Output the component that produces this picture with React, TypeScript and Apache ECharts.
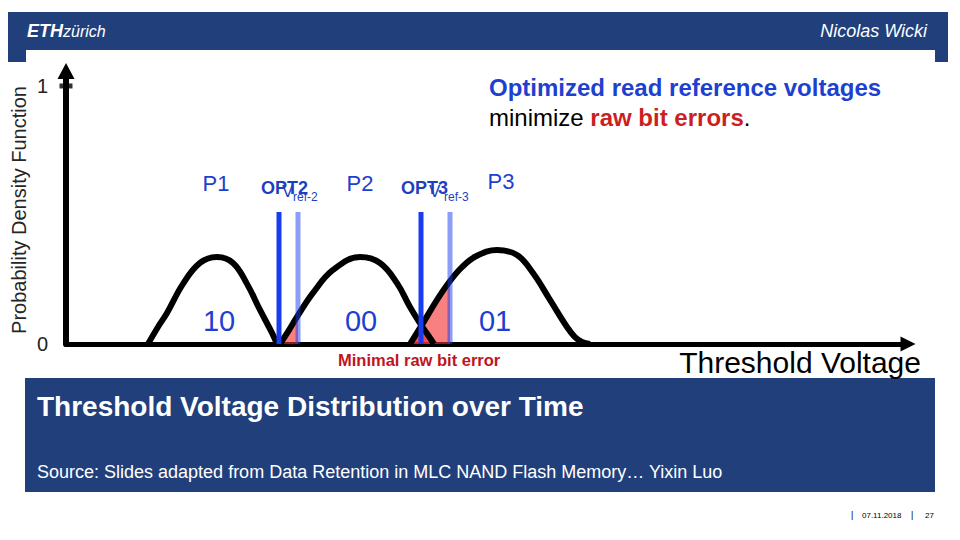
import React, { useEffect, useRef } from "react";
import * as echarts from "echarts";

// Threshold-voltage distributions (voltage in arbitrary units, density 0..1)
const p1Volt = [8.2, 9.2, 10.1, 11.7, 13.4, 15.1, 16.7, 18.1, 19.4, 20.6, 21.1];
const p1Dens = [0, 0.066, 0.12, 0.233, 0.314, 0.337, 0.314, 0.233, 0.132, 0.043, 0];

const p2Volt = [21.4, 22.3, 23.1, 24.7, 26.7, 29.4, 31.4, 33.1, 34.4, 35.5, 36.2, 36.8];
const p2Dens = [0, 0.054, 0.105, 0.198, 0.287, 0.337, 0.314, 0.236, 0.143, 0.074, 0.035, 0];

const p3Volt = [34.4, 35.7, 37.1, 38.4, 39.6, 41.0, 43.1, 45.1, 46.7, 48.4, 50.1, 50.9, 51.6, 52.4];
const p3Dens = [0, 0.081, 0.171, 0.244, 0.298, 0.34, 0.364, 0.345, 0.275, 0.171, 0.066, 0.027, 0.008, 0];

// raw bit error regions
const err2Volt = [21.4, 22.3, 23.2];
const err2Dens = [0, 0.054, 0.109];
const err3Volt = [34.4, 35.7, 37.1, 38.4];
const err3Dens = [0, 0.081, 0.171, 0.244];
const minErrVolt = [34.7, 35.6, 36.6];
const minErrDens = [0, 0.05, 0];

// read reference voltages
const optVolts = [21.3, 35.5];
const vrefVolts = [23.2, 38.4];
const refLineTop = 0.512;

const yTickValues = [0, 1];
const stateNames = ["P1", "P2", "P3"];
const stateBits = ["10", "00", "01"];

const BLUE_BG = "#21407b";
const TEXT_BLUE = "#1e40d0";
const FONT = "'Liberation Sans', Arial, sans-serif";

const zip = (xs: number[], ys: number[]) => xs.map((x, i) => [x, ys[i]]);

export default function App() {
  const ref = useRef<HTMLDivElement>(null);
  useEffect(() => {
    if (!ref.current) return;
    const chart = echarts.init(ref.current, undefined, { renderer: "svg" });

    const curve = (name: string, xs: number[], ys: number[]) => ({
      type: "line",
      name,
      data: zip(xs, ys),
      smooth: 0.4,
      showSymbol: false,
      lineStyle: { color: "#000", width: 6 },
      z: 3,
    });
    const fill = (xs: number[], ys: number[], z: number) => ({
      type: "line",
      data: zip(xs, ys),
      smooth: 0.3,
      showSymbol: false,
      lineStyle: { width: 0 },
      areaStyle: { color: "rgba(243,43,43,0.6)", opacity: 1 },
      z,
    });
    const vline = (v: number, color: string, z: number) => ({
      type: "line",
      data: [
        [v, 0],
        [v, refLineTop],
      ],
      showSymbol: false,
      lineStyle: { color, width: 5 },
      z,
    });

    const pLabelX = [216, 360, 501];
    const pLabelY = [183, 183, 181];
    const bitLabelX = [219, 361, 495];

    const graphic: any[] = [
      { type: "rect", shape: { x: 8, y: 12, width: 940, height: 50 }, style: { fill: BLUE_BG } },
      { type: "rect", shape: { x: 26, y: 50, width: 909, height: 12 }, style: { fill: "#fff" } },
      {
        type: "text",
        x: 27,
        y: 31,
        style: {
          text: "{a|ETH}{b|zürich}",
          verticalAlign: "middle",
          rich: {
            a: { fontFamily: FONT, fontWeight: "bold", fontStyle: "italic", fontSize: 18, fill: "#fff" },
            b: { fontFamily: FONT, fontStyle: "italic", fontSize: 16, fill: "#fff" },
          },
        },
      },
      {
        type: "text",
        x: 927,
        y: 31,
        style: { text: "Nicolas Wicki", align: "right", verticalAlign: "middle", fontFamily: FONT, fontStyle: "italic", fontSize: 18, fill: "#fff" },
      },
      { type: "rect", shape: { x: 25, y: 378, width: 910, height: 114 }, style: { fill: BLUE_BG } },
      {
        type: "text",
        x: 37,
        y: 406,
        style: { text: "Threshold Voltage Distribution over Time", verticalAlign: "middle", fontFamily: FONT, fontWeight: "bold", fontSize: 28, fill: "#fff" },
      },
      {
        type: "text",
        x: 37,
        y: 472,
        style: { text: "Source: Slides adapted from Data Retention in MLC NAND Flash Memory… Yixin Luo", verticalAlign: "middle", fontFamily: FONT, fontSize: 18, fill: "#fff" },
      },
      { type: "text", x: 851, y: 515, style: { text: "|", verticalAlign: "middle", fontFamily: FONT, fontSize: 9, fill: "#000" } },
      { type: "text", x: 862, y: 515, style: { text: "07.11.2018", verticalAlign: "middle", fontFamily: FONT, fontSize: 8, fill: "#000" } },
      { type: "text", x: 911, y: 515, style: { text: "|", verticalAlign: "middle", fontFamily: FONT, fontSize: 9, fill: "#000" } },
      { type: "text", x: 925, y: 515, style: { text: "27", verticalAlign: "middle", fontFamily: FONT, fontSize: 8, fill: "#000" } },
      {
        type: "text",
        x: 19,
        y: 210,
        rotation: Math.PI / 2,
        style: { text: "Probability Density Function", align: "center", verticalAlign: "middle", fontFamily: FONT, fontSize: 20, fill: "#262626" },
      },
      {
        type: "text",
        x: 921,
        y: 362,
        style: { text: "Threshold Voltage", align: "right", verticalAlign: "middle", fontFamily: FONT, fontSize: 30, fill: "#000" },
      },
      {
        type: "text",
        x: 489,
        y: 87,
        style: { text: "Optimized read reference voltages", verticalAlign: "middle", fontFamily: FONT, fontWeight: "bold", fontSize: 24, fill: TEXT_BLUE },
      },
      {
        type: "text",
        x: 489,
        y: 117,
        style: {
          text: "{n|minimize }{r|raw bit errors}{n|.}",
          verticalAlign: "middle",
          rich: {
            n: { fontFamily: FONT, fontSize: 24, fill: "#000" },
            r: { fontFamily: FONT, fontSize: 24, fontWeight: "bold", fill: "#cc1f1f" },
          },
        },
      },
      {
        type: "text",
        x: 338,
        y: 360,
        style: { text: "Minimal raw bit error", verticalAlign: "middle", fontFamily: FONT, fontWeight: "bold", fontSize: 16.5, fill: "#c0141e" },
      },
      ...stateNames.map((t, i) => ({
        type: "text",
        x: pLabelX[i],
        y: pLabelY[i],
        style: { text: t, align: "center", verticalAlign: "middle", fontFamily: FONT, fontSize: 22, fill: TEXT_BLUE },
      })),
      ...stateBits.map((t, i) => ({
        type: "text",
        x: bitLabelX[i],
        y: 321,
        style: { text: t, align: "center", verticalAlign: "middle", fontFamily: FONT, fontSize: 29, fill: TEXT_BLUE },
      })),
      { type: "text", x: 261, y: 188, style: { text: "OPT2", verticalAlign: "middle", fontFamily: FONT, fontWeight: "bold", fontSize: 18, fill: "#1e3fbf" } },
      { type: "text", x: 282, y: 191, style: { text: "V", verticalAlign: "middle", fontFamily: FONT, fontSize: 17, fill: "#1e3fbf" } },
      { type: "text", x: 293, y: 197, style: { text: "ref-2", verticalAlign: "middle", fontFamily: FONT, fontSize: 12, fill: "#1e3fbf" } },
      { type: "text", x: 401, y: 188, style: { text: "OPT3", verticalAlign: "middle", fontFamily: FONT, fontWeight: "bold", fontSize: 18, fill: "#1e3fbf" } },
      { type: "text", x: 429, y: 191, style: { text: "V", verticalAlign: "middle", fontFamily: FONT, fontSize: 17, fill: "#1e3fbf" } },
      { type: "text", x: 444, y: 197, style: { text: "ref-3", verticalAlign: "middle", fontFamily: FONT, fontSize: 12, fill: "#1e3fbf" } },
    ];

    chart.setOption({
      animation: false,
      backgroundColor: "#fff",
      grid: { left: 66, right: 52, top: 71, bottom: 196, containLabel: false },
      xAxis: {
        type: "value",
        min: 0,
        max: 84.2,
        axisLine: { show: true, lineStyle: { color: "#000", width: 5 }, symbol: ["none", "triangle"], symbolSize: [15, 15], onZero: false },
        axisTick: { show: false },
        axisLabel: { show: false },
        splitLine: { show: false },
      },
      yAxis: {
        type: "value",
        min: 0,
        max: 1.058,
        interval: 1,
        axisLine: { show: true, lineStyle: { color: "#000", width: 6 }, symbol: ["none", "triangle"], symbolSize: [17, 16] },
        axisTick: { show: false },
        axisLabel: {
          margin: 18,
          fontFamily: FONT,
          fontSize: 20,
          color: "#222",
          formatter: (v: number) => (yTickValues.includes(v) ? String(v) : ""),
        },
        splitLine: { show: false },
      },
      series: [
        fill(err2Volt, err2Dens, 1),
        fill(err3Volt, err3Dens, 1),
        fill(minErrVolt, minErrDens, 2),
        curve("P1", p1Volt, p1Dens),
        curve("P2", p2Volt, p2Dens),
        curve("P3", p3Volt, p3Dens),
        ...vrefVolts.map((v) => vline(v, "rgba(26,60,240,0.5)", 4)),
        ...optVolts.map((v) => vline(v, "#1a3cf0", 5)),
        {
          type: "scatter",
          data: yTickValues.filter((v) => v > 0).map((v) => [0, v]),
          symbol: "rect",
          symbolSize: [13, 5],
          itemStyle: { color: "#000" },
          z: 6,
        },
      ],
      graphic,
    });
    return () => chart.dispose();
  }, []);
  return <div ref={ref} style={{ position: "fixed", left: 0, top: 0, width: 960, height: 540 }} />;
}
